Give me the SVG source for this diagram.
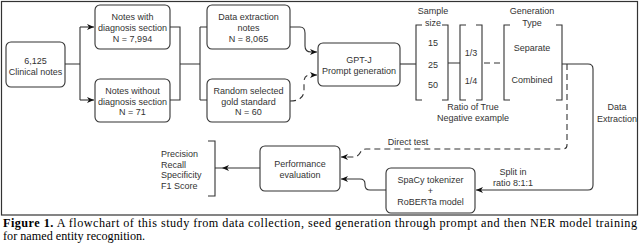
<svg xmlns="http://www.w3.org/2000/svg" width="640" height="243" viewBox="0 0 640 243">
<style>
.box{fill:#fff;stroke:#333;stroke-width:1.1}
.t{font-family:"Liberation Sans",Arial,sans-serif;font-size:9px;fill:#333;text-anchor:middle}
.l{font-family:"Liberation Sans",Arial,sans-serif;font-size:9px;fill:#333}
.c{fill:none;stroke:#333;stroke-width:1.1}
.d{fill:none;stroke:#333;stroke-width:1.1;stroke-dasharray:6,4}
.cap{font-family:"Liberation Serif","Times New Roman",serif;font-size:12.2px;fill:#000}
</style>
<defs>
<marker id="ah" markerUnits="userSpaceOnUse" markerWidth="8" markerHeight="8" refX="7" refY="4" orient="auto">
<path d="M0,1 L7,4 L0,7 L2,4 Z" fill="#111"/>
</marker>
</defs>
<rect x="1.5" y="1.5" width="636" height="213.5" fill="#fff" stroke="#333" stroke-width="1.2"/>
<g id="connectors">
<path class="c" d="M65,64 H80 M80,27 V100"/>
<path class="c" d="M80,27 H94" marker-end="url(#ah)"/>
<path class="c" d="M80,100 H94" marker-end="url(#ah)"/>
<path class="c" d="M170,27 H180 V100 H170 M180,64 H200 M200,27 V100 M200,27 H207 M200,100 H207"/>
<path class="c" d="M290,27 H300 Q305,27 305,33 V46 Q305,52 311,52 H317" marker-end="url(#ah)"/>
<path class="d" d="M290,101 Q304,101 304,90 V82 Q304,75 310,75 H317" marker-end="url(#ah)"/>
<path class="c" d="M400,64 H416"/>
<path class="c" d="M422,25 H416 V100 H422 M442,25 H448 V100 H442 M448,63 H460"/>
<path class="c" d="M466,25 H460 V100 H466 M476,25 H482 V100 H476"/>
<path class="d" d="M484,63 H504"/>
<path class="c" d="M510,25 H504 V100 H510 M556,25 H562 V100 H556"/>
<path class="c" d="M562,64 H588 Q593,64 593,69 V185 Q593,190 588,190 H476" marker-end="url(#ah)"/>
<path class="d" d="M567,64 V145 Q567,149 563,149 H366 Q362,149 360,153 Q358,157 352,157 H341" marker-end="url(#ah)"/>
<path class="c" d="M386,190 H370 Q365,190 365,185 V184 Q365,179 360,179 H341" marker-end="url(#ah)"/>
<path class="c" d="M260,168 H222" marker-end="url(#ah)"/>
<path class="c" d="M222,168 H215 M208,141 H215 V196 H208"/>
</g>
<g id="clinical">
<rect class="box" x="6" y="42" width="59" height="45" rx="5"/>
<text class="t" x="35.5" y="63.5">6,125</text>
<text class="t" x="35.5" y="74.5">Clinical notes</text>
</g>
<g id="notes-with">
<rect class="box" x="95" y="5" width="75" height="44" rx="5"/>
<text class="t" x="132.5" y="20">Notes with</text>
<text class="t" x="132.5" y="31">diagnosis section</text>
<text class="t" x="132.5" y="42">N = 7,994</text>
</g>
<g id="notes-without">
<rect class="box" x="95" y="79" width="75" height="43" rx="5"/>
<text class="t" x="132.5" y="94">Notes without</text>
<text class="t" x="132.5" y="104.5">diagnosis section</text>
<text class="t" x="132.5" y="115">N = 71</text>
</g>
<g id="data-extraction">
<rect class="box" x="207" y="5" width="83" height="44" rx="5"/>
<text class="t" x="248.5" y="20">Data extraction</text>
<text class="t" x="248.5" y="31">notes</text>
<text class="t" x="248.5" y="42">N = 8,065</text>
</g>
<g id="random-gold">
<rect class="box" x="207" y="79" width="83" height="43" rx="5"/>
<text class="t" x="248.5" y="94">Random selected</text>
<text class="t" x="248.5" y="104.5">gold standard</text>
<text class="t" x="248.5" y="115">N = 60</text>
</g>
<g id="gptj">
<rect class="box" x="318" y="43" width="82" height="43" rx="5"/>
<text class="t" x="359" y="63">GPT-J</text>
<text class="t" x="359" y="74">Prompt generation</text>
</g>
<g id="sample-size">
<text class="t" x="433" y="14">Sample</text>
<text class="t" x="433" y="26">size</text>
<text class="t" x="433" y="46">15</text>
<text class="t" x="433" y="68">25</text>
<text class="t" x="433" y="88">50</text>
</g>
<g id="ratio">
<text class="t" x="471" y="56">1/3</text>
<text class="t" x="471" y="84">1/4</text>
<text class="t" x="473" y="110">Ratio of True</text>
<text class="t" x="473" y="121">Negative example</text>
</g>
<g id="generation-type">
<text class="t" x="532" y="14">Generation</text>
<text class="t" x="532" y="26">Type</text>
<text class="t" x="532" y="51">Separate</text>
<text class="t" x="532" y="83">Combined</text>
</g>
<g id="labels">
<text class="t" x="617" y="110">Data</text>
<text class="t" x="617" y="122">Extraction</text>
<text class="t" x="408" y="145">Direct test</text>
<text class="t" x="513" y="175">Split in</text>
<text class="t" x="513" y="186">ratio 8:1:1</text>
</g>
<g id="performance">
<rect class="box" x="260" y="146" width="80" height="45" rx="5"/>
<text class="t" x="300" y="167">Performance</text>
<text class="t" x="300" y="178">evaluation</text>
</g>
<g id="spacy">
<rect class="box" x="386" y="168" width="89" height="45" rx="5"/>
<text class="t" x="430.5" y="183">SpaCy tokenizer</text>
<text class="t" x="430.5" y="194">+</text>
<text class="t" x="430.5" y="205">RoBERTa model</text>
</g>
<g id="metrics">
<text class="l" x="161" y="157">Precision</text>
<text class="l" x="161" y="167.5">Recall</text>
<text class="l" x="161" y="178">Specificity</text>
<text class="l" x="161" y="189">F1 Score</text>
</g>
<text class="cap" x="3" y="227" textLength="634" lengthAdjust="spacing"><tspan font-weight="bold">Figure 1.</tspan> A flowchart of this study from data collection, seed generation through prompt and then NER model training</text>
<text class="cap" x="3" y="240">for named entity recognition.</text>
</svg>
